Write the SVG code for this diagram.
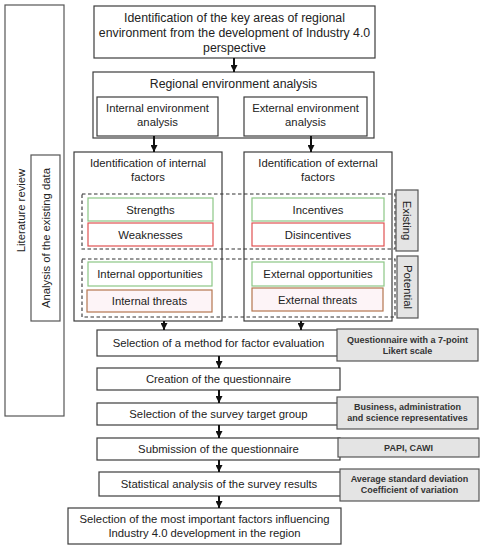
<svg xmlns="http://www.w3.org/2000/svg" width="485" height="550" viewBox="0 0 485 550">
<style>
text{font-family:"Liberation Sans",Arial,sans-serif;fill:#222;text-anchor:middle}
.t{font-size:11.3px}
.h{font-size:12.3px}
.g{font-size:9px;font-weight:bold;fill:#333}
.box{fill:#fff;stroke:#3c3c3c;stroke-width:1.2}
.side{fill:#fff;stroke:#555;stroke-width:1.2}
.gray{fill:#e4e4e4;stroke:#555;stroke-width:1.2}
.green{fill:#fff;stroke:#8cc785;stroke-width:1.2}
.red{fill:#fff;stroke:#e05252;stroke-width:1.2}
.brown{fill:#fdf4f7;stroke:#b5764f;stroke-width:1.2}
.dash{fill:none;stroke:#333;stroke-width:1.1;stroke-dasharray:3.5,2.5}
.arr{stroke:#111;stroke-width:2;fill:none;marker-end:url(#ah)}
</style>
<defs>
<marker id="ah" markerUnits="userSpaceOnUse" markerWidth="8" markerHeight="7" refX="7" refY="3.5" orient="auto">
<path d="M0,0 L7,3.5 L0,7 z" fill="#111"/>
</marker>
</defs>
<g id="literature-review">
<rect class="side" x="5" y="5" width="59" height="411"/>
<text class="t" transform="translate(25,210.5) rotate(-90)">Literature review</text>
</g>
<g id="analysis-existing-data">
<rect class="side" x="31" y="155" width="29" height="166"/>
<text class="t" transform="translate(49.5,238) rotate(-90)">Analysis of the existing data</text>
</g>
<g id="key-areas">
<rect class="box" x="94" y="6" width="281" height="52"/>
<text class="h" x="234.5" y="21.5">Identification of the key areas of regional</text>
<text class="h" x="234.5" y="36.5">environment from the development of Industry 4.0</text>
<text class="h" x="234.5" y="51.5">perspective</text>
</g>
<g id="regional-analysis">
<rect class="box" x="93" y="72" width="281" height="66"/>
<text class="h" x="233.5" y="87.5">Regional environment analysis</text>
</g>
<g id="internal-env">
<rect class="box" x="97" y="97" width="121" height="39"/>
<text class="t" x="157.5" y="112">Internal environment</text>
<text class="t" x="157.5" y="126">analysis</text>
</g>
<g id="external-env">
<rect class="box" x="244" y="97" width="123" height="39"/>
<text class="t" x="305.5" y="112">External environment</text>
<text class="t" x="305.5" y="126">analysis</text>
</g>
<g id="internal-factors">
<rect class="box" x="74" y="152" width="148" height="169"/>
<text class="t" x="148" y="167">Identification of internal</text>
<text class="t" x="148" y="181">factors</text>
</g>
<g id="external-factors">
<rect class="box" x="244" y="152" width="148" height="169"/>
<text class="t" x="318" y="167">Identification of external</text>
<text class="t" x="318" y="181">factors</text>
</g>
<g id="strengths">
<rect class="green" x="88" y="198" width="125" height="23"/>
<text class="t" x="150.5" y="213.5">Strengths</text>
</g>
<g id="weaknesses">
<rect class="red" x="88" y="223" width="125" height="23"/>
<text class="t" x="150.5" y="238.5">Weaknesses</text>
</g>
<g id="internal-opportunities">
<rect class="green" x="88" y="262" width="124" height="24"/>
<text class="t" x="150" y="278">Internal opportunities</text>
</g>
<g id="internal-threats">
<rect class="brown" x="87" y="290" width="125" height="22"/>
<text class="t" x="149.5" y="305">Internal threats</text>
</g>
<g id="incentives">
<rect class="green" x="252" y="198" width="132" height="23"/>
<text class="t" x="318" y="213.5">Incentives</text>
</g>
<g id="disincentives">
<rect class="red" x="252" y="223" width="132" height="23"/>
<text class="t" x="318" y="238.5">Disincentives</text>
</g>
<g id="external-opportunities">
<rect class="green" x="252" y="262" width="132" height="24"/>
<text class="t" x="318" y="278">External opportunities</text>
</g>
<g id="external-threats">
<rect class="brown" x="252" y="288" width="131" height="23"/>
<text class="t" x="317.5" y="303.5">External threats</text>
</g>
<g id="existing-group">
<rect class="dash" x="82" y="194" width="313" height="55"/>
<rect class="gray" x="396" y="190" width="22" height="61"/>
<text class="t" transform="translate(403,220.5) rotate(90)">Existing</text>
</g>
<g id="potential-group">
<rect class="dash" x="82" y="259" width="313" height="58"/>
<rect class="gray" x="397" y="256" width="21" height="62"/>
<text class="t" transform="translate(403.5,287) rotate(90)">Potential</text>
</g>
<g id="method-selection">
<rect class="box" x="97" y="330" width="243" height="26"/>
<text class="t" x="218.5" y="347">Selection of a method for factor evaluation</text>
</g>
<g id="likert">
<rect class="gray" x="337" y="329" width="141" height="32"/>
<text class="g" x="407.5" y="343">Questionnaire with a 7-point</text>
<text class="g" x="407.5" y="354">Likert scale</text>
</g>
<g id="creation">
<rect class="box" x="97" y="368" width="243" height="22"/>
<text class="t" x="218.5" y="383">Creation of the questionnaire</text>
</g>
<g id="target-group">
<rect class="box" x="97" y="403" width="243" height="22"/>
<text class="t" x="218.5" y="418">Selection of the survey target group</text>
</g>
<g id="representatives">
<rect class="gray" x="337" y="397" width="141" height="32"/>
<text class="g" x="407.5" y="410">Business, administration</text>
<text class="g" x="407.5" y="421">and science representatives</text>
</g>
<g id="submission">
<rect class="box" x="97" y="438" width="243" height="22"/>
<text class="t" x="218.5" y="453">Submission of the questionnaire</text>
</g>
<g id="papi">
<rect class="gray" x="338" y="438" width="141" height="19"/>
<text class="g" x="408.5" y="451">PAPI, CAWI</text>
</g>
<g id="statistical">
<rect class="box" x="99" y="472" width="243" height="24"/>
<text class="t" x="219" y="488">Statistical analysis of the survey results</text>
</g>
<g id="deviation">
<rect class="gray" x="340" y="469" width="139" height="32"/>
<text class="g" x="409.5" y="482">Average standard deviation</text>
<text class="g" x="409.5" y="493">Coefficient of variation</text>
</g>
<g id="final-selection">
<rect class="box" x="68" y="508" width="273" height="36"/>
<text class="t" x="204.5" y="523">Selection of the most important factors influencing</text>
<text class="t" x="204.5" y="537">Industry 4.0 development in the region</text>
</g>
<g id="connectors">
<line class="arr" x1="234" y1="58" x2="234" y2="72"/>
<line class="arr" x1="154" y1="136" x2="154" y2="152"/>
<line class="arr" x1="311" y1="136" x2="311" y2="152"/>
<line class="arr" x1="164" y1="321" x2="164" y2="330"/>
<line class="arr" x1="301" y1="321" x2="301" y2="330"/>
<line class="arr" x1="219" y1="356" x2="219" y2="368"/>
<line class="arr" x1="219" y1="390" x2="219" y2="403"/>
<line class="arr" x1="219" y1="425" x2="219" y2="438"/>
<line class="arr" x1="219" y1="460" x2="219" y2="472"/>
<line class="arr" x1="219" y1="496" x2="219" y2="508"/>
</g>
</svg>
